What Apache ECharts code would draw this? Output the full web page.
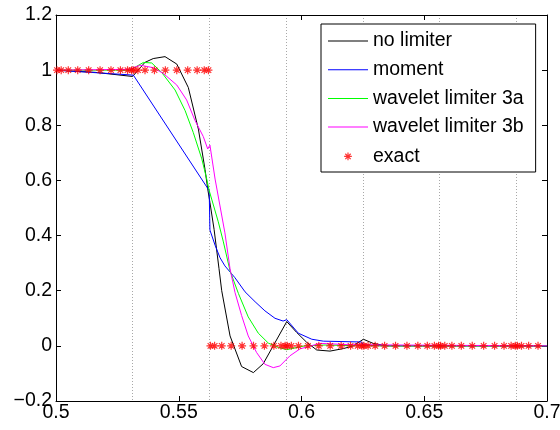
<!DOCTYPE html>
<html>
<head>
<meta charset="utf-8">
<script src="https://cdn.jsdelivr.net/npm/echarts@6/dist/echarts.min.js"></script>
<style>
  html, body { margin: 0; padding: 0; background: #fff; }
  #chart { width: 560px; height: 430px; }
</style>
</head>
<body>
<div id="chart"></div>
<script>
// Axis ticks
const xTicks = [0.5, 0.55, 0.6, 0.65, 0.7];
const yTicks = [-0.2, 0, 0.2, 0.4, 0.6, 0.8, 1, 1.2];
// Width of one mesh cell (dotted lines mark the cell edges)
const cellWidth = 0.03125;

// Numerical solutions
const noLimiterX = [0.5, 0.516, 0.5312, 0.5319, 0.5362, 0.5396, 0.5444, 0.5492, 0.5539, 0.5580, 0.5607, 0.5618, 0.5627, 0.5644, 0.5664, 0.5675, 0.5709, 0.5756, 0.5804, 0.5844, 0.5940, 0.5980, 0.6021, 0.6062, 0.6116, 0.6170, 0.6211, 0.6252, 0.6292, 0.6347, 0.66, 0.7];
const noLimiterY = [1.0, 0.992, 0.977, 0.975, 1.028, 1.042, 1.049, 1.022, 0.937, 0.786, 0.64, 0.569, 0.52, 0.422, 0.28, 0.2, 0.036, -0.075, -0.097, -0.065, 0.088, 0.049, 0.013, -0.015, -0.019, -0.010, 0.0, 0.024, 0.009, 0.0, 0.0, 0.0];

const momentX = [0.5, 0.5315, 0.5624, 0.5627, 0.5648, 0.5668, 0.5688, 0.5729, 0.5770, 0.5811, 0.5851, 0.5892, 0.5925, 0.5940, 0.5987, 0.6042, 0.6089, 0.6245, 0.6252, 0.6300, 0.7];
const momentY = [1.0, 0.982, 0.563, 0.42, 0.365, 0.32, 0.29, 0.247, 0.196, 0.16, 0.127, 0.1, 0.09, 0.095, 0.046, 0.024, 0.017, 0.014, 0.004, 0.001, 0.0];

const wavelet3aX = [0.5, 0.5300, 0.5325, 0.5356, 0.5390, 0.5431, 0.5485, 0.5526, 0.5559, 0.5594, 0.5614, 0.5624, 0.5661, 0.5681, 0.5709, 0.5743, 0.5783, 0.5824, 0.5865, 0.5906, 0.5940, 0.5974, 0.6014, 0.6096, 0.6250, 0.7];
const wavelet3aY = [1.0, 1.0, 1.012, 1.028, 1.026, 0.991, 0.928, 0.853, 0.774, 0.678, 0.605, 0.563, 0.45, 0.38, 0.272, 0.19, 0.105, 0.046, 0.01, -0.006, -0.014, -0.007, 0.0, 0.003, 0.0, 0.0];

const wavelet3bX = [0.5, 0.5300, 0.5342, 0.5396, 0.5437, 0.5492, 0.5532, 0.5566, 0.5600, 0.5618, 0.5627, 0.5648, 0.5688, 0.5709, 0.5729, 0.5756, 0.5783, 0.5817, 0.5851, 0.5885, 0.5912, 0.5953, 0.5994, 0.6075, 0.6200, 0.7];
const wavelet3bY = [1.0, 1.003, 1.018, 1.009, 0.988, 0.946, 0.892, 0.818, 0.759, 0.714, 0.728, 0.605, 0.41, 0.279, 0.194, 0.11, 0.036, -0.024, -0.067, -0.079, -0.073, -0.036, -0.011, 0.009, 0.004, 0.0];

// Exact solution sampled at the quadrature points of each cell
const exactX = [
  0.50041, 0.50211, 0.50501, 0.50885, 0.51330, 0.51795, 0.52240, 0.52624, 0.52914, 0.53084,
  0.53166, 0.53336, 0.53626, 0.54010, 0.54455, 0.54920, 0.55365, 0.55749, 0.56039, 0.56209,
  0.56291, 0.56461, 0.56751, 0.57135, 0.57580, 0.58045, 0.58490, 0.58874, 0.59164, 0.59334,
  0.59416, 0.59586, 0.59876, 0.60260, 0.60705, 0.61170, 0.61615, 0.61999, 0.62289, 0.62459,
  0.62541, 0.62711, 0.63001, 0.63385, 0.63830, 0.64295, 0.64740, 0.65124, 0.65414, 0.65584,
  0.65666, 0.65836, 0.66126, 0.66510, 0.66955, 0.67420, 0.67865, 0.68249, 0.68539, 0.68709,
  0.68791, 0.68961, 0.69251, 0.69635
];
const exactY = [
  1, 1, 1, 1, 1, 1, 1, 1, 1, 1,
  1, 1, 1, 1, 1, 1, 1, 1, 1, 1,
  0, 0, 0, 0, 0, 0, 0, 0, 0, 0,
  0, 0, 0, 0, 0, 0, 0, 0, 0, 0,
  0, 0, 0, 0, 0, 0, 0, 0, 0, 0,
  0, 0, 0, 0, 0, 0, 0, 0, 0, 0,
  0, 0, 0, 0
];

const FONT = '"Liberation Sans", Arial, Helvetica, sans-serif';
const zip = (xs, ys) => xs.map((x, i) => [x, ys[i]]);
const fmt = v => String(+(+v).toFixed(3)).replace('-', '\u2212');

// Asterisk marker drawn as stroked spokes
const STAR = 'path://M0,-10L0,10M-10,0L10,0M-7,-7L7,7M-7,7L7,-7';
// Same asterisk with an enlarged bounding box so it stays small in the legend
const STAR_LEGEND = 'path://M-26,-26M26,26M0,-10L0,10M-10,0L10,0M-7,-7L7,7M-7,7L7,-7';
// Thin bar used as the legend sample for the lines
const LINE_ICON = 'path://M0,0L40,0L40,1L0,1Z';

const black = '#000000';
const frameLine = { onZero: false, lineStyle: { color: black, width: 1 } };
const innerTick = { inside: true, length: 5, lineStyle: { color: black, width: 1 } };
const tickLabel = { color: black, fontSize: 19.5, fontFamily: FONT, formatter: fmt };

function lineSeries(name, xs, ys, color) {
  return {
    type: 'line', name, data: zip(xs, ys),
    xAxisIndex: 0, yAxisIndex: 0,
    symbol: 'none', showSymbol: false,
    lineStyle: { color, width: 1 },
    itemStyle: { color },
    emphasis: { disabled: true },
    z: 3
  };
}

const chart = echarts.init(document.getElementById('chart'), null, { renderer: 'canvas' });
chart.setOption({
  animation: false,
  backgroundColor: '#fff',
  grid: { left: 56, top: 15, width: 491, height: 386, containLabel: false, outerBoundsMode: 'none' },
  xAxis: [
    {
      type: 'value', position: 'bottom',
      min: xTicks[0], max: xTicks[xTicks.length - 1], interval: xTicks[1] - xTicks[0],
      axisLine: frameLine, axisTick: innerTick,
      axisLabel: Object.assign({ margin: 2, hideOverlap: false }, tickLabel),
      splitLine: { show: false }
    },
    {
      type: 'value', position: 'top',
      min: xTicks[0], max: xTicks[xTicks.length - 1], interval: xTicks[1] - xTicks[0],
      axisLine: frameLine, axisTick: innerTick,
      axisLabel: { show: false }, splitLine: { show: false }
    },
    {
      type: 'value', position: 'bottom',
      min: xTicks[0], max: xTicks[xTicks.length - 1], interval: cellWidth,
      axisLine: { show: false }, axisTick: { show: false }, axisLabel: { show: false },
      splitLine: {
        show: true, showMinLine: false, showMaxLine: false,
        lineStyle: { color: '#a8a8a8', width: 1, type: [1, 2] }
      }
    }
  ],
  yAxis: [
    {
      type: 'value', position: 'left',
      min: yTicks[0], max: yTicks[yTicks.length - 1], interval: yTicks[1] - yTicks[0],
      axisLine: frameLine, axisTick: innerTick,
      axisLabel: Object.assign({ margin: 4 }, tickLabel),
      splitLine: { show: false }
    },
    {
      type: 'value', position: 'right',
      min: yTicks[0], max: yTicks[yTicks.length - 1], interval: yTicks[1] - yTicks[0],
      axisLine: frameLine, axisTick: innerTick,
      axisLabel: { show: false }, splitLine: { show: false }
    }
  ],
  legend: {
    orient: 'vertical',
    left: 321, top: 24,
    itemWidth: 40, itemHeight: 20, itemGap: 8.7,
    padding: [7, 12, 5, 7],
    borderColor: black, borderWidth: 1, borderRadius: 0,
    backgroundColor: '#fff',
    selectedMode: false,
    textStyle: { color: black, fontSize: 19.5, fontFamily: FONT, lineHeight: 20 },
    data: [
      { name: 'no limiter', icon: LINE_ICON, itemStyle: { color: '#000000' } },
      { name: 'moment', icon: LINE_ICON, itemStyle: { color: '#0000ff' } },
      { name: 'wavelet limiter 3a', icon: LINE_ICON, itemStyle: { color: '#00ff00' } },
      { name: 'wavelet limiter 3b', icon: LINE_ICON, itemStyle: { color: '#ff00ff' } },
      { name: 'exact', icon: STAR_LEGEND, itemStyle: { color: '#ff0000', borderColor: '#ff0000', borderWidth: 1.2 } }
    ]
  },
  series: [
    lineSeries('no limiter', noLimiterX, noLimiterY, '#000000'),
    lineSeries('moment', momentX, momentY, '#0000ff'),
    lineSeries('wavelet limiter 3a', wavelet3aX, wavelet3aY, '#00ff00'),
    lineSeries('wavelet limiter 3b', wavelet3bX, wavelet3bY, '#ff00ff'),
    {
      type: 'scatter', name: 'exact', data: zip(exactX, exactY),
      xAxisIndex: 0, yAxisIndex: 0,
      symbol: STAR, symbolSize: 8,
      itemStyle: { color: '#ff0000', borderColor: '#ff0000', borderWidth: 1.2 },
      emphasis: { disabled: true },
      z: 4
    }
  ]
});
</script>
</body>
</html>
